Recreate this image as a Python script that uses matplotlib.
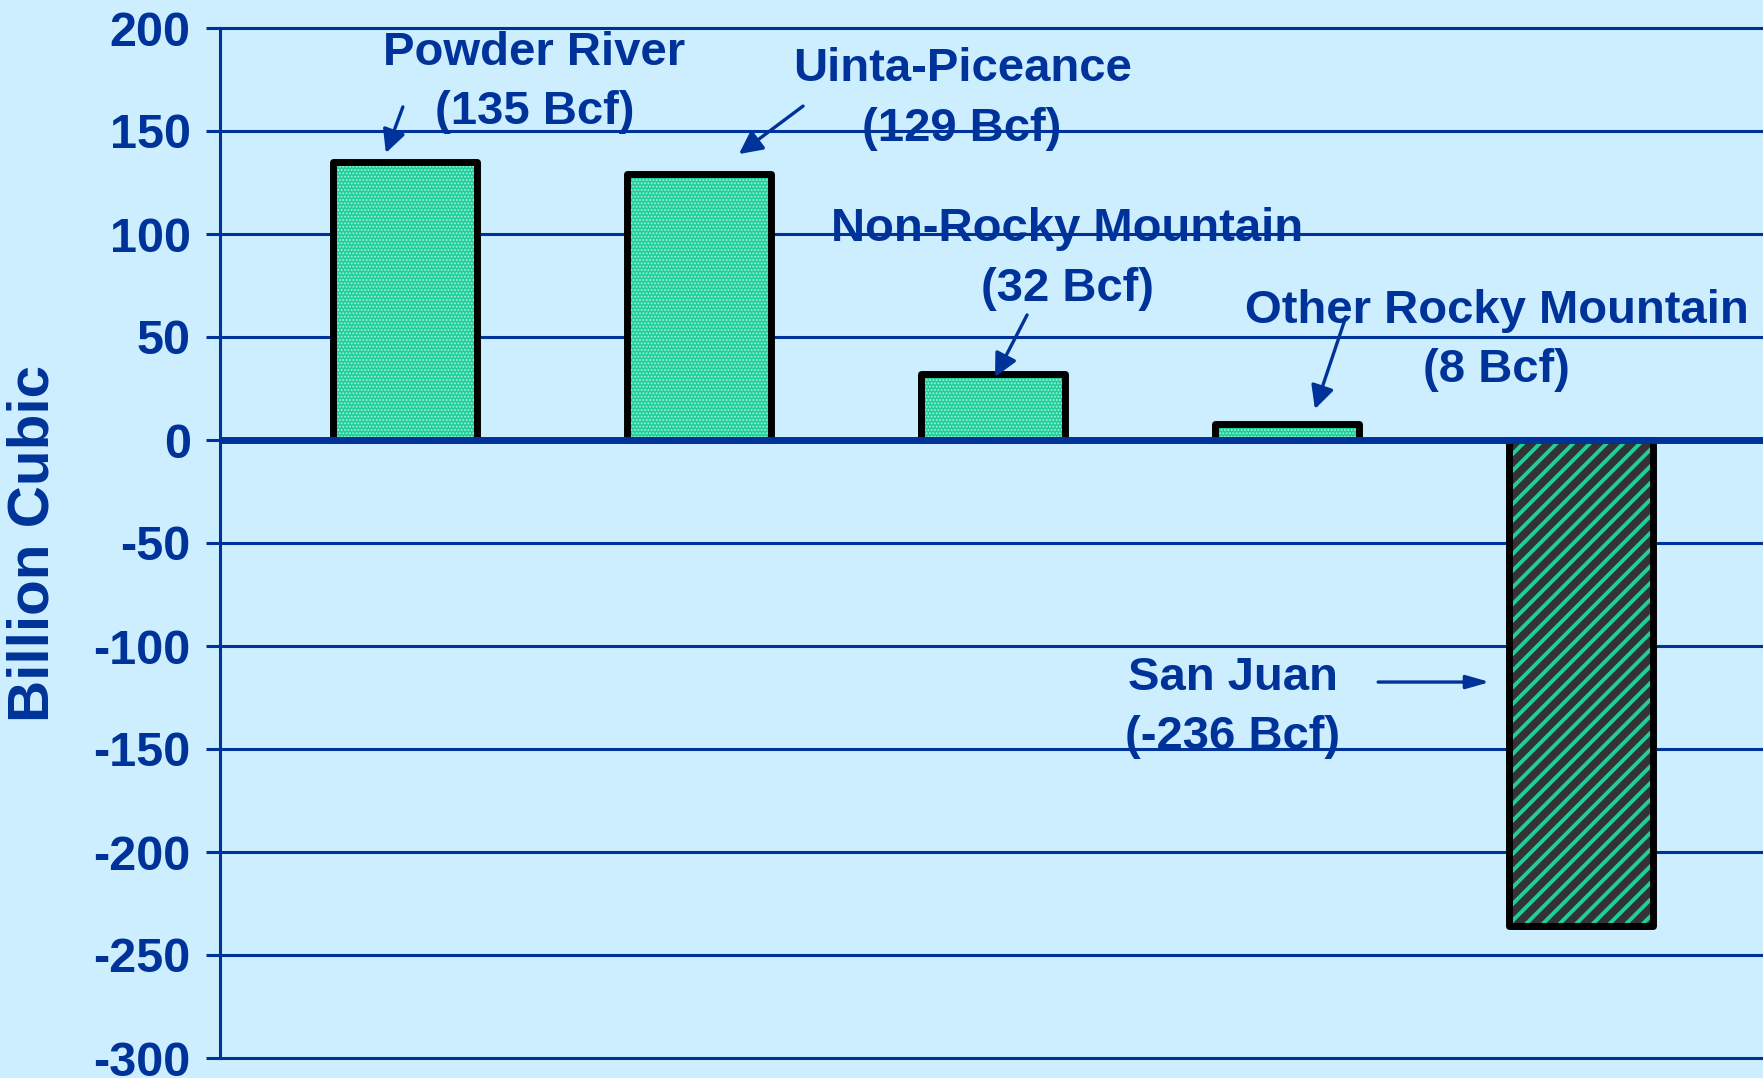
import matplotlib
matplotlib.use("Agg")
import matplotlib.pyplot as plt

# values (billion cubic feet)
basins = ['Powder River', 'Uinta-Piceance', 'Non-Rocky Mountain',
          'Other Rocky Mountain', 'San Juan']
changes = [135, 129, 32, 8, -236]
yticks = [-300, -250, -200, -150, -100, -50, 0, 50, 100, 150, 200]

# label placement: text centre, arrow tail, arrow tip offset from bar top
text_pos = [(0.44, 173.5), (1.895, 165.5), (2.252, 87.8), (3.714, 48.3), (2.816, -129.8)]
arrow_tail = [(-0.007, 161.7), (1.354, 162.1), (2.116, 60.7), (3.2, 59.7), (3.31, -117.5)]
arrow_tip = [(-0.065, 4.3), (0.136, 9.8), (0.007, -1.4), (0.095, 7.0), (-0.31, None)]

navy = '#003399'
bg = '#cceeff'
green = '#1fcf9b'

plt.rcParams['font.family'] = ['Liberation Sans', 'DejaVu Sans']
plt.rcParams['font.weight'] = 'bold'
plt.rcParams['axes.unicode_minus'] = False

fig = plt.figure(figsize=(17.63, 10.78), dpi=100, facecolor=bg)
ax = fig.add_axes([220 / 1763, 20 / 1078, 1 - 220 / 1763, 1030 / 1078])
ax.set_facecolor(bg)

x = list(range(len(basins)))
faces = [green if v > 0 else '#333333' for v in changes]
hatch_cols = ['#a8f0d8' if v > 0 else green for v in changes]

fills = ax.bar(x, changes, width=0.49, color=faces, edgecolor=hatch_cols,
               linewidth=0, zorder=2)
for p, v in zip(fills, changes):
    p.set_hatch('.....' if v > 0 else '//')
    if hasattr(p, 'set_hatch_linewidth'):
        p.set_hatch_linewidth(0.9 if v > 0 else 2.8)

ax.bar(x, changes, width=0.49, facecolor='none', edgecolor='black',
       linewidth=5, joinstyle='round', zorder=3)

ax.axhline(0, color=navy, linewidth=5, zorder=4)

ax.set_xlim(-0.629, 4.619)
ax.set_ylim(-300, 200)
ax.set_yticks(yticks)
ax.set_xticks([])
ax.yaxis.grid(True, color=navy, linewidth=2.2)
ax.set_axisbelow(True)
for gl in ax.get_ygridlines():
    gl.set_clip_on(False)
ax.tick_params(axis='y', colors=navy, labelsize=35, length=10, width=2.2, pad=11)
for lab in ax.get_yticklabels():
    lab.set_fontweight('bold')
for s in ['top', 'right', 'bottom']:
    ax.spines[s].set_visible(False)
ax.spines['left'].set_color(navy)
ax.spines['left'].set_linewidth(2.2)

for i, (name, v) in enumerate(zip(basins, changes)):
    tx, ty = text_pos[i]
    ax.text(tx, ty, f"{name}\n({v} Bcf)", ha='center', va='center',
            fontsize=34, fontweight='bold', color=navy, linespacing=1.45,
            zorder=5)
    dx, dy = arrow_tip[i]
    tip_y = arrow_tail[i][1] if dy is None else v + dy
    head = 'head_length=0.7,head_width=0.35' if dy is not None else 'head_length=0.7,head_width=0.2'
    ax.annotate('', xy=(i + dx, tip_y), xytext=arrow_tail[i],
                arrowprops=dict(arrowstyle='-|>,' + head, color=navy, lw=2.4,
                                shrinkA=0, shrinkB=0, mutation_scale=20),
                zorder=5)

fig.text(34 / 1763, 1 - 544 / 1078, 'Billion Cubic', rotation=90,
         ha='center', va='center', fontsize=42, fontweight='bold', color=navy)

fig.savefig('out.png', dpi=100, facecolor=bg)
